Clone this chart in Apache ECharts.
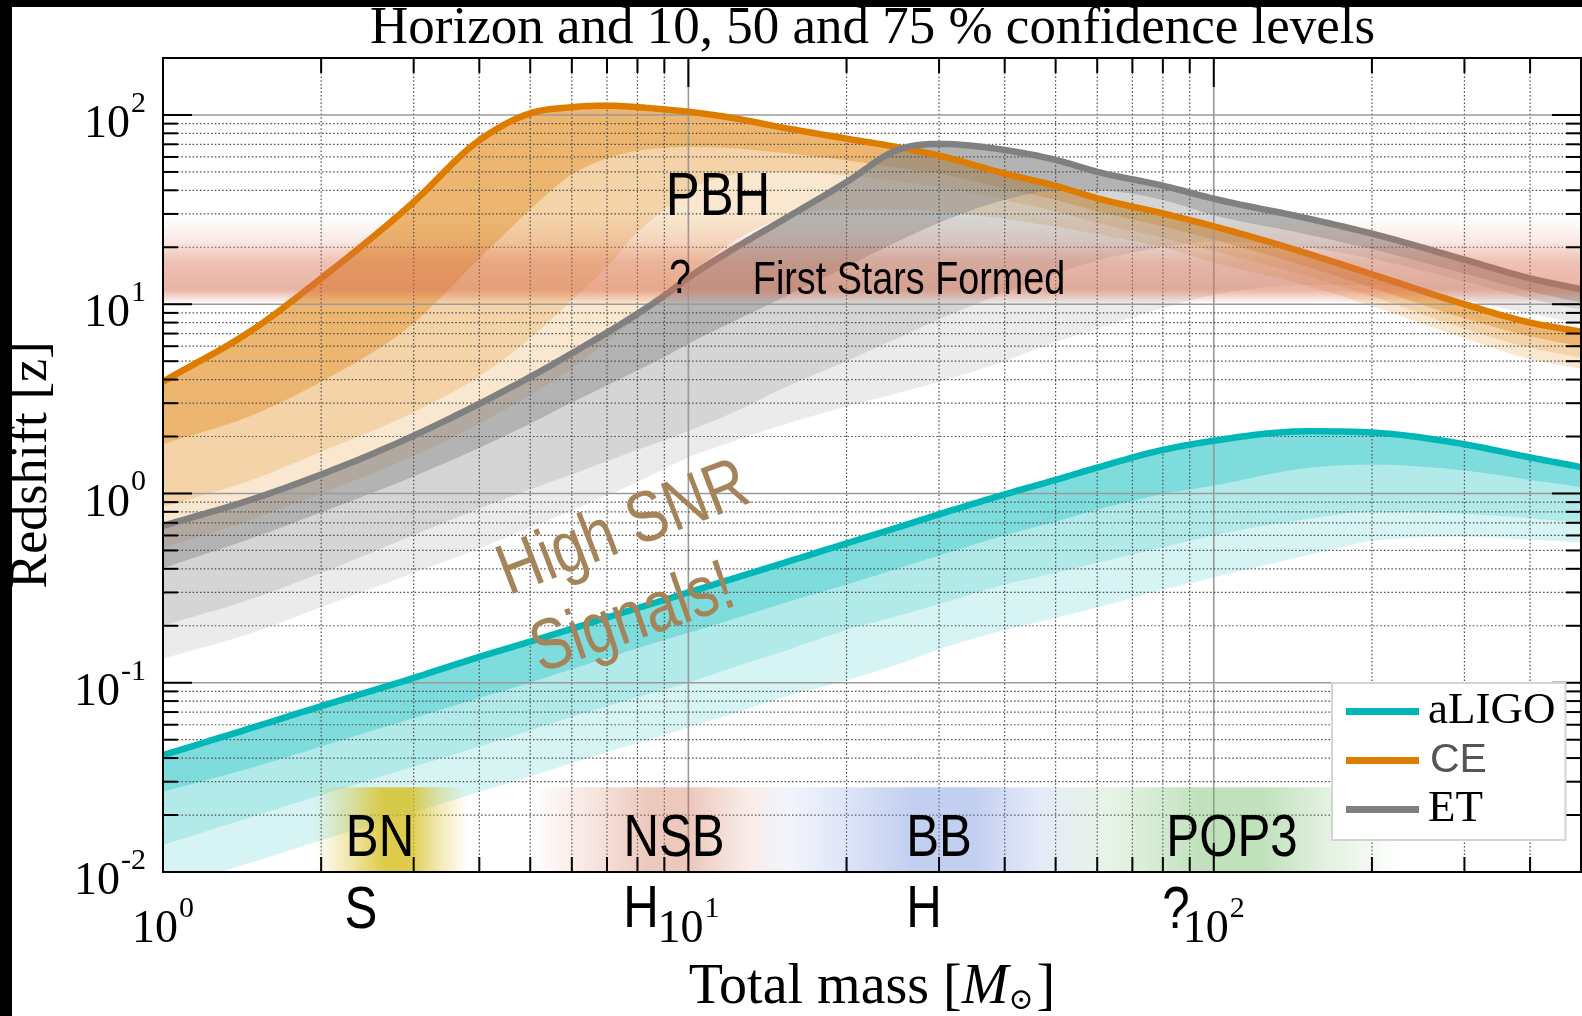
<!DOCTYPE html>
<html><head><meta charset="utf-8">
<script src="https://cdn.jsdelivr.net/npm/echarts@6/dist/echarts.min.js"></script>
<style>html,body{margin:0;padding:0;background:#fff}#chart{width:1582px;height:1016px}</style>
</head><body><div id="chart"></div>
<script>
// ---------------- data ----------------
const mass = [1, 1.5, 2, 3, 4, 5, 6, 7, 8, 9, 10, 12, 15, 20, 25, 30, 40, 50, 60, 80, 100, 150, 200, 300, 400, 500];

const aligoHorizon = [0.0414, 0.0586, 0.0752, 0.106, 0.137, 0.165, 0.193, 0.221, 0.248, 0.274, 0.300, 0.351, 0.425, 0.545, 0.661, 0.776, 0.989, 1.18, 1.37, 1.70, 1.90, 2.13, 2.10, 1.82, 1.55, 1.38];
const aligo10 = [0.0265, 0.036, 0.046, 0.065, 0.083, 0.100, 0.118, 0.135, 0.152, 0.168, 0.183, 0.214, 0.26, 0.33, 0.40, 0.47, 0.60, 0.71, 0.82, 0.99, 1.10, 1.36, 1.42, 1.32, 1.18, 1.08];
const aligo50 = [0.0139, 0.0198, 0.0255, 0.036, 0.046, 0.056, 0.066, 0.075, 0.084, 0.092, 0.100, 0.119, 0.145, 0.19, 0.225, 0.26, 0.33, 0.38, 0.43, 0.52, 0.60, 0.73, 0.80, 0.78, 0.74, 0.70];
const aligo75 = [0.0081, 0.0114, 0.0147, 0.0207, 0.0265, 0.032, 0.0376, 0.043, 0.048, 0.053, 0.058, 0.068, 0.083, 0.103, 0.125, 0.15, 0.19, 0.22, 0.25, 0.31, 0.36, 0.47, 0.56, 0.59, 0.57, 0.55];

const ceHorizon = [3.90, 7.50, 13.7, 34.7, 73.5, 102, 110, 112, 110, 107, 104, 97.0, 86.1, 75.0, 67.6, 61.0, 49.0, 42.2, 36.3, 30.2, 25.8, 18.6, 14.4, 10.0, 8.0, 7.16];
const ce10 = [1.82, 2.63, 3.89, 7.94, 17.4, 31.6, 48.4, 58.9, 64.6, 66.8, 67.6, 66.8, 63.1, 57.5, 52.5, 49.0, 40.7, 35.5, 30.9, 25.7, 21.9, 15.8, 12.2, 8.41, 6.76, 5.97];
const ce50 = [0.845, 1.20, 1.66, 2.69, 4.17, 6.61, 10.5, 15.8, 24.0, 31.6, 39.8, 47.9, 50.1, 47.9, 44.7, 41.7, 35.5, 30.9, 26.9, 22.4, 19.1, 14.1, 11.0, 7.41, 5.89, 5.22];
const ce75 = [0.515, 0.741, 1.00, 1.58, 2.34, 3.31, 4.57, 6.31, 8.51, 11.2, 14.1, 20.9, 28.2, 31.6, 31.6, 30.9, 28.2, 25.7, 23.4, 20.0, 16.6, 12.6, 9.77, 6.61, 5.13, 4.56];

const etHorizon = [0.675, 0.944, 1.26, 2.02, 2.98, 4.13, 5.50, 7.08, 8.91, 11.1, 13.8, 19.1, 27.5, 44.2, 65.3, 70.3, 65.3, 57.9, 50.1, 42.3, 36.1, 28.5, 23.6, 17.2, 13.7, 12.0];
const et10 = [0.403, 0.589, 0.794, 1.23, 1.74, 2.34, 3.02, 3.72, 4.47, 5.25, 6.17, 7.94, 10.7, 15.8, 21.4, 26.9, 35.5, 39.8, 39.8, 35.5, 29.5, 23.4, 19.5, 14.5, 11.7, 10.2];
const et50 = [0.200, 0.282, 0.380, 0.603, 0.832, 1.05, 1.26, 1.48, 1.70, 1.91, 2.14, 2.63, 3.55, 5.01, 6.61, 8.32, 11.5, 14.5, 17.0, 20.0, 21.4, 20.0, 17.4, 13.2, 10.7, 9.33];
const et75 = [0.134, 0.186, 0.251, 0.380, 0.513, 0.661, 0.813, 0.977, 1.15, 1.35, 1.55, 1.86, 2.29, 2.88, 3.39, 3.89, 5.01, 6.31, 7.41, 9.55, 11.2, 12.6, 12.6, 10.5, 8.91, 7.94];

// "First Stars Formed" redshift range
const firstStarsZ = [10.2, 29];
// source classes: names and total-mass ranges
const classNames = ['BN', 'NSB', 'BB', 'POP3'];
const classMassFrom = [1.94, 5.0, 13.1, 46.5];
const classMassTo = [3.8, 15.6, 63.4, 226];
const classTopZ = 0.028;

// tick values
const xMajorTicks = [10, 100];
const xMinorTicks = [2, 3, 4, 5, 6, 7, 8, 9, 20, 30, 40, 50, 60, 70, 80, 90, 200, 300, 400];
const yMajorTicks = [0.1, 1, 10, 100];
const yMinorTicks = [0.02, 0.03, 0.04, 0.05, 0.06, 0.07, 0.08, 0.09, 0.2, 0.3, 0.4, 0.5, 0.6, 0.7, 0.8, 0.9,
  2, 3, 4, 5, 6, 7, 8, 9, 20, 30, 40, 50, 60, 70, 80, 90];

// ---------------- styles ----------------
const SERIF = "'Liberation Serif', 'Times New Roman', serif";
const SANS = "'Liberation Sans', Arial, sans-serif";
const C_TEAL = '#00b7b7', C_ORANGE = '#de7c00', C_GRAY = '#808080';
const classColors = ['215,190,30', '210,120,90', '110,140,220', '100,180,90'];
const classAlpha = [0.8, 0.4, 0.42, 0.4];

// ---------------- helpers ----------------
function smoothPts(p) {
  const n = p.length, d = [], h = [], m = [];
  for (let i = 0; i < n - 1; i++) { h[i] = p[i + 1][0] - p[i][0]; d[i] = (p[i + 1][1] - p[i][1]) / h[i]; }
  m[0] = d[0]; m[n - 1] = d[n - 2];
  for (let i = 1; i < n - 1; i++) {
    if (d[i - 1] * d[i] <= 0) { m[i] = 0; continue; }
    let t = (h[i] * d[i - 1] + h[i - 1] * d[i]) / (h[i - 1] + h[i]);
    const lim = 3 * Math.min(Math.abs(d[i - 1]), Math.abs(d[i]));
    if (Math.abs(t) > lim) t = Math.sign(t) * lim;
    m[i] = t;
  }
  const out = [];
  for (let i = 0; i < n - 1; i++) {
    const steps = 14;
    for (let s = 0; s < steps; s++) {
      const t = s / steps, t2 = t * t, t3 = t2 * t;
      const h00 = 2 * t3 - 3 * t2 + 1, h10 = t3 - 2 * t2 + t, h01 = -2 * t3 + 3 * t2, h11 = t3 - t2;
      out.push([p[i][0] + t * h[i], h00 * p[i][1] + h10 * h[i] * m[i] + h01 * p[i + 1][1] + h11 * h[i] * m[i + 1]]);
    }
  }
  out.push(p[n - 1]);
  return out;
}
function curvePx(api, ys) { return smoothPts(mass.map((m, i) => api.coord([m, ys[i]]))); }
function clipRect(cs) { return { type: 'rect', shape: { x: cs.x, y: cs.y, width: cs.width, height: cs.height } }; }

function makeBands(curves, colors, z) {
  return {
    type: 'custom', coordinateSystem: 'cartesian2d', clip: true, silent: true, z: z,
    data: mass.map((m, i) => [m, curves[0][i]]),
    renderItem: function (params, api) {
      if (params.dataIndex !== 0) return null;
      const sm = curves.map(c => curvePx(api, c));
      const children = [];
      for (let k = 0; k < 3; k++) {
        children.push({ type: 'polygon', shape: { points: sm[k].concat(sm[k + 1].slice().reverse()) }, style: { fill: colors[k] } });
      }
      return { type: 'group', children: children, clipPath: clipRect(params.coordSys) };
    }
  };
}
function makeLine(name, ys, color, z) {
  return {
    type: 'custom', name: name, coordinateSystem: 'cartesian2d', clip: true, silent: true, z: z,
    itemStyle: { color: color },
    data: mass.map((m, i) => [m, ys[i]]),
    renderItem: function (params, api) {
      if (params.dataIndex !== 0) return null;
      return { type: 'polyline', shape: { points: curvePx(api, ys) }, clipPath: clipRect(params.coordSys),
        style: { stroke: color, lineWidth: 6.5, fill: null, lineJoin: 'round', lineCap: 'butt' } };
    }
  };
}

const tickItems = [];
xMinorTicks.forEach(v => tickItems.push([v, 1, 0]));
xMajorTicks.forEach(v => tickItems.push([v, 1, 1]));
yMinorTicks.forEach(v => tickItems.push([1, v, 2]));
yMajorTicks.forEach(v => tickItems.push([1, v, 3]));

function powLabel(v) {
  const l = Math.log10(v), e = Math.round(l);
  if (Math.abs(l - e) > 1e-6) return '';
  return '{b|10}{s|' + e + '}';
}
const labelRich = {
  b: { fontFamily: SERIF, fontSize: 46, lineHeight: 46, padding: [20, 0, 0, 0], color: '#000' },
  s: { fontFamily: SERIF, fontSize: 30, lineHeight: 30, padding: [7, 0, 29, 1], color: '#000' }
};

// ---------------- chart ----------------
const chart = echarts.init(document.getElementById('chart'));

const bandCE = makeBands([ceHorizon, ce10, ce50, ce75], ['rgba(222,125,0,0.56)', 'rgba(222,125,0,0.34)', 'rgba(222,125,0,0.19)'], 2);
const bandET = makeBands([etHorizon, et10, et50, et75], ['rgba(128,128,128,0.6)', 'rgba(128,128,128,0.33)', 'rgba(128,128,128,0.16)'], 2);
const bandLIGO = makeBands([aligoHorizon, aligo10, aligo50, aligo75], ['rgba(0,185,185,0.5)', 'rgba(0,185,185,0.3)', 'rgba(0,185,185,0.16)'], 2);

const gridSeries = {
  type: 'custom', coordinateSystem: 'cartesian2d', silent: true, z: 3, data: tickItems,
  renderItem: function (params, api) {
    const cs = params.coordSys, kind = api.value(2);
    const minor = { stroke: '#4a4a4a', lineWidth: 1.2, lineDash: [1.5, 2.2] };
    const major = { stroke: '#9a9a9a', lineWidth: 1.6 };
    if (kind < 2) {
      const x = api.coord([api.value(0), 1])[0];
      return { type: 'line', shape: { x1: x, y1: cs.y, x2: x, y2: cs.y + cs.height }, style: kind === 0 ? minor : major };
    }
    const y = api.coord([1, api.value(1)])[1];
    return { type: 'line', shape: { x1: cs.x, y1: y, x2: cs.x + cs.width, y2: y }, style: kind === 2 ? minor : major };
  }
};
const tickSeries = {
  type: 'custom', coordinateSystem: 'cartesian2d', silent: true, z: 20, data: tickItems,
  renderItem: function (params, api) {
    const cs = params.coordSys, kind = api.value(2);
    const st = { stroke: '#000', lineWidth: 2 };
    const len = (kind === 1 || kind === 3) ? 29 : 15;
    const ch = [];
    if (kind < 2) {
      const x = api.coord([api.value(0), 1])[0];
      ch.push({ type: 'line', shape: { x1: x, y1: cs.y, x2: x, y2: cs.y + len }, style: st });
      ch.push({ type: 'line', shape: { x1: x, y1: cs.y + cs.height - len, x2: x, y2: cs.y + cs.height }, style: st });
    } else {
      const y = api.coord([1, api.value(1)])[1];
      ch.push({ type: 'line', shape: { x1: cs.x, y1: y, x2: cs.x + len, y2: y }, style: st });
      ch.push({ type: 'line', shape: { x1: cs.x + cs.width - len, y1: y, x2: cs.x + cs.width, y2: y }, style: st });
    }
    if (params.dataIndex === 0) {
      ch.push({ type: 'rect', shape: { x: cs.x, y: cs.y, width: cs.width, height: cs.height }, style: { stroke: '#000', lineWidth: 2, fill: null } });
    }
    return { type: 'group', children: ch };
  }
};
const firstStarsSeries = {
  type: 'custom', coordinateSystem: 'cartesian2d', silent: true, z: 8,
  data: [[mass[0], firstStarsZ[1], mass[mass.length - 1], firstStarsZ[0]]],
  renderItem: function (params, api) {
    const p0 = api.coord([api.value(0), api.value(1)]), p1 = api.coord([api.value(2), api.value(3)]);
    return { type: 'rect', shape: { x: p0[0], y: p0[1], width: p1[0] - p0[0], height: p1[1] - p0[1] },
      style: { fill: new echarts.graphic.LinearGradient(0, 0, 0, 1, [
        { offset: 0, color: 'rgba(215,110,80,0)' },
        { offset: 0.28, color: 'rgba(215,110,80,0.15)' },
        { offset: 0.52, color: 'rgba(215,110,80,0.42)' },
        { offset: 0.85, color: 'rgba(215,110,80,0.52)' },
        { offset: 1, color: 'rgba(215,110,80,0.05)' }]) } };
  }
};
const classSeries = {
  type: 'custom', coordinateSystem: 'cartesian2d', silent: true, z: 9,
  data: classNames.map((n, i) => [classMassFrom[i], 0.01, classMassTo[i], classTopZ]),
  renderItem: function (params, api) {
    const i = params.dataIndex, c = classColors[i], a = classAlpha[i];
    const p0 = api.coord([api.value(0), api.value(3)]), p1 = api.coord([api.value(2), api.value(1)]);
    return { type: 'rect', shape: { x: p0[0], y: p0[1], width: p1[0] - p0[0], height: p1[1] - p0[1] },
      style: { fill: new echarts.graphic.LinearGradient(0, 0, 1, 0, [
        { offset: 0, color: 'rgba(' + c + ',0)' },
        { offset: 0.25, color: 'rgba(' + c + ',' + (a * 0.5) + ')' },
        { offset: 0.45, color: 'rgba(' + c + ',' + a + ')' },
        { offset: 0.62, color: 'rgba(' + c + ',' + a + ')' },
        { offset: 0.8, color: 'rgba(' + c + ',' + (a * 0.45) + ')' },
        { offset: 1, color: 'rgba(' + c + ',0)' }]) } };
  }
};

function txt(text, x, y, size, opts) {
  opts = opts || {};
  return { type: 'text', x: x, y: y, z: 100, rotation: opts.rot || 0, scaleX: 0.82, silent: true,
    style: { text: text, fontFamily: SANS, fontSize: size, fill: opts.color || '#000',
      align: 'center', verticalAlign: 'middle' } };
}

const option = {
  animation: false,
  backgroundColor: '#fff',
  title: { text: 'Horizon and 10, 50 and 75 % confidence levels', left: 370, top: 3, padding: 0,
    textStyle: { fontFamily: SERIF, fontSize: 53, fontWeight: 'normal', color: '#000' } },
  grid: { left: 163, right: 1, top: 58, bottom: 144, containLabel: false, outerBoundsMode: 'none' },
  legend: {
    orient: 'vertical', left: 1332, top: 683, padding: [6, 10, 8, 14],
    itemWidth: 73, itemHeight: 7, itemGap: 6,
    backgroundColor: '#fff', borderColor: '#d4d4d4', borderWidth: 2, z: 30,
    data: [{ name: 'aLIGO', icon: 'rect' }, { name: 'CE', icon: 'rect' }, { name: 'ET', icon: 'rect' }],
    formatter: function (n) { return n === 'CE' ? '{c|CE}' : '{t|' + n + '}'; },
    textStyle: { rich: {
      t: { fontFamily: SERIF, fontSize: 45, lineHeight: 46, color: '#000', padding: [0, 0, 0, 4] },
      c: { fontFamily: SANS, fontSize: 41, lineHeight: 46, color: '#555', padding: [0, 0, 0, 6] } } }
  },
  xAxis: {
    type: 'log', logBase: 10, min: 1, max: 500,
    axisLine: { show: true, lineStyle: { color: '#000', width: 2 } },
    axisTick: { show: false }, splitLine: { show: false },
    axisLabel: { formatter: powLabel, margin: 25, rich: labelRich, showMaxLabel: false },
    name: '{n|Total mass [}{i|M}{o|⊙}{n|]}', nameLocation: 'middle', nameGap: 88,
    nameTextStyle: { rich: {
      n: { fontFamily: SERIF, fontSize: 56, lineHeight: 56, color: '#000' },
      i: { fontFamily: SERIF, fontSize: 56, lineHeight: 56, fontStyle: 'italic', color: '#000' },
      o: { fontFamily: "'DejaVu Serif', serif", fontSize: 30, lineHeight: 30, padding: [26, 3, 0, 0], color: '#000' } } }
  },
  yAxis: {
    type: 'log', logBase: 10, min: 0.01, max: 200,
    axisLine: { show: true, lineStyle: { color: '#000', width: 2 } },
    axisTick: { show: false }, splitLine: { show: false },
    axisLabel: { formatter: powLabel, margin: 17, rich: labelRich, showMaxLabel: false },
    name: 'Redshift [z]', nameLocation: 'middle', nameGap: 105,
    nameTextStyle: { fontFamily: SERIF, fontSize: 52, color: '#000' }
  },
  series: [
    bandCE, bandET, gridSeries,
    makeLine('CE', ceHorizon, C_ORANGE, 4),
    makeLine('ET', etHorizon, C_GRAY, 5),
    bandLIGO,
    makeLine('aLIGO', aligoHorizon, C_TEAL, 6),
    firstStarsSeries, classSeries, tickSeries
  ],
  graphic: [
    { type: 'rect', z: 200, silent: true, shape: { x: 0, y: 0, width: 1582, height: 7 }, style: { fill: '#000' } },
    { type: 'rect', z: 200, silent: true, shape: { x: 0, y: 0, width: 12, height: 1016 }, style: { fill: '#000' } },
    txt('PBH', 718, 198, 62),
    txt('?', 680, 280, 48),
    txt('First Stars Formed', 909, 281, 46),
    txt('High SNR', 624, 530, 72, { rot: 21 * Math.PI / 180, color: '#a6845a' }),
    txt('Signals!', 633, 620, 72, { rot: 19 * Math.PI / 180, color: '#a6845a' }),
    txt('BN', 380, 839, 60),
    txt('NSB', 674, 839, 60),
    txt('BB', 939, 839, 60),
    txt('POP3', 1232, 839, 60),
    txt('S', 361, 911, 60),
    txt('H', 641, 910, 60),
    txt('H', 924, 910, 60),
    txt('?', 1176, 911, 60)
  ]
};
chart.setOption(option);
</script>
</body></html>
